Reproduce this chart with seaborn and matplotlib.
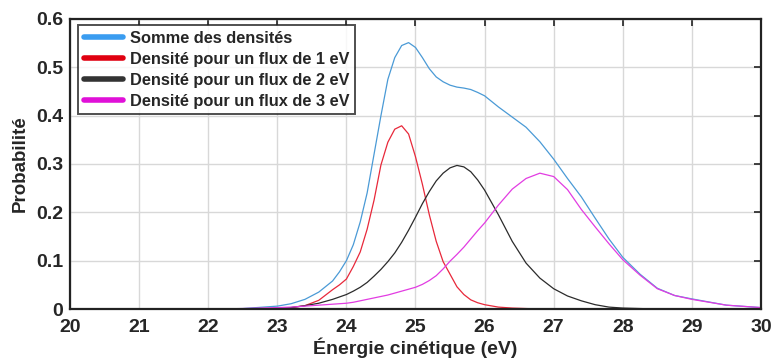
# Densités de probabilité en fonction de l'énergie cinétique
import matplotlib
matplotlib.use("Agg")
import matplotlib.pyplot as plt
from matplotlib.lines import Line2D
import seaborn as sns
import pandas as pd

# -----------------------------------------
# Données
# -----------------------------------------
energie = [20, 21, 22, 22.5,
           23.0, 23.2, 23.4, 23.6, 23.8, 23.9,
           24.0, 24.1, 24.2, 24.3, 24.4, 24.5, 24.6, 24.7, 24.8, 24.9,
           25.0, 25.1, 25.2, 25.3, 25.4, 25.5, 25.6, 25.7, 25.8, 25.9, 26.0,
           26.2, 26.4, 26.6, 26.8, 27.0, 27.2, 27.4, 27.6, 27.8, 28.0,
           28.25, 28.5, 28.75, 29.0, 29.5, 30]

somme = [0, 0, 0, 0.001,
         0.006, 0.011, 0.02, 0.035, 0.058, 0.077,
         0.1, 0.133, 0.18, 0.24, 0.32, 0.40, 0.475, 0.52, 0.545, 0.551,
         0.541, 0.52, 0.497, 0.48, 0.47, 0.463, 0.459, 0.457, 0.454, 0.448, 0.441,
         0.418, 0.397, 0.376, 0.346, 0.31, 0.27, 0.232, 0.188, 0.145, 0.107,
         0.072, 0.043, 0.028, 0.021, 0.008, 0.003]

flux_1 = [0, 0, 0, 0,
          0.001, 0.003, 0.007, 0.018, 0.04, 0.05,
          0.062, 0.088, 0.118, 0.165, 0.225, 0.298, 0.345, 0.372, 0.379, 0.362,
          0.315, 0.258, 0.195, 0.14, 0.098, 0.072, 0.046, 0.03, 0.019, 0.013, 0.009,
          0.004, 0.002, 0.001, 0, 0, 0, 0, 0, 0, 0,
          0, 0, 0, 0, 0, 0]

flux_2 = [0, 0, 0, 0,
          0.001, 0.003, 0.007, 0.012, 0.02, 0.025,
          0.03, 0.037, 0.045, 0.055, 0.068, 0.082, 0.098, 0.116, 0.138, 0.163,
          0.19, 0.218, 0.243, 0.265, 0.281, 0.292, 0.297, 0.294, 0.284, 0.267, 0.246,
          0.195, 0.14, 0.095, 0.064, 0.042, 0.027, 0.017, 0.009, 0.004, 0.002,
          0.001, 0, 0, 0, 0, 0]

flux_3 = [0, 0, 0, 0.001,
          0.003, 0.004, 0.006, 0.008, 0.01, 0.011,
          0.012, 0.014, 0.017, 0.02, 0.023, 0.026, 0.029, 0.033, 0.037, 0.041,
          0.045, 0.051, 0.059, 0.069, 0.083, 0.099, 0.113, 0.128, 0.145, 0.162, 0.178,
          0.215, 0.248, 0.27, 0.281, 0.274, 0.247, 0.206, 0.17, 0.135, 0.102,
          0.07, 0.042, 0.028, 0.02, 0.008, 0.003]

noms = ["Somme des densités",
        "Densité pour un flux de 1 eV",
        "Densité pour un flux de 2 eV",
        "Densité pour un flux de 3 eV"]

couleurs_courbes = ["#4a9ad6", "#e8283a", "#2b2b2b", "#e23ce2"]
couleurs_legende = ["#3a9cf0", "#e00010", "#333333", "#e010d8"]

x_ticks = [20, 21, 22, 23, 24, 25, 26, 27, 28, 29, 30]
y_ticks = [0, 0.1, 0.2, 0.3, 0.4, 0.5, 0.6]
y_labels = ["0", "0.1", "0.2", "0.3", "0.4", "0.5", "0.6"]

# -----------------------------------------
# Tableau long pour seaborn
# -----------------------------------------
series = [somme, flux_1, flux_2, flux_3]
df = pd.concat([
    pd.DataFrame({"energie": energie, "prob": valeurs, "courbe": nom})
    for nom, valeurs in zip(noms, series)
])

# -----------------------------------------
# Figure
# -----------------------------------------
sns.set_theme(style="whitegrid")
plt.rcParams["font.family"] = ["Liberation Sans", "DejaVu Sans"]

fig = plt.figure(figsize=(7.71, 3.64), dpi=100)
ax = fig.add_axes([0.0908, 0.151, 0.8962, 0.797])

sns.lineplot(
    data=df,
    x="energie",
    y="prob",
    hue="courbe",
    hue_order=noms,
    palette=dict(zip(noms, couleurs_courbes)),
    linewidth=0.9,
    legend=False,
    ax=ax,
)

ax.set_xlim(20, 30)
ax.set_ylim(0, 0.6)
ax.set_xticks(x_ticks)
ax.set_yticks(y_ticks)
ax.set_yticklabels(y_labels)
ax.grid(True, color="#d8d8d8", linewidth=1.0)
ax.set_facecolor("white")

for cote in ax.spines.values():
    cote.set_color("#222222")
    cote.set_linewidth(1.6)

ax.tick_params(axis="both", direction="in", length=5, width=1.2, color="#222222",
               top=True, right=True, labelsize=14)
ax.tick_params(axis="x", pad=7)
ax.tick_params(axis="y", pad=5)
for lab in ax.get_xticklabels() + ax.get_yticklabels():
    lab.set_fontweight("bold")

ax.set_xlabel("Énergie cinétique (eV)", fontsize=14, fontweight="bold", labelpad=1)
ax.set_ylabel("Probabilité", fontsize=13.5, fontweight="bold", labelpad=5)

poignees = [Line2D([0], [0], color=c, linewidth=4) for c in couleurs_legende]
leg = ax.legend(poignees, noms, loc="upper left", bbox_to_anchor=(0.012, 0.978),
                prop={"weight": "bold", "size": 11.8}, frameon=True, fancybox=False,
                edgecolor="#222222", handlelength=2.4, handletextpad=0.4,
                labelspacing=0.36, borderpad=0.35, borderaxespad=0.0)
leg.get_frame().set_linewidth(1.4)

fig.savefig("out.png", dpi=100)
